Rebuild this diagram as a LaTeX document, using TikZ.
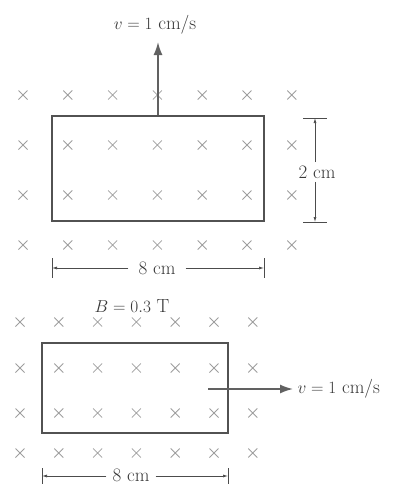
\documentclass[tikz,border=0pt]{standalone}
\usetikzlibrary{arrows.meta}
\begin{document}
\begin{tikzpicture}[x=1pt, y=-1pt,
    every node/.style={font=\fontsize{19}{22}\selectfont, text=black!78},
    field/.style={black!38, line width=0.8pt},
    wire/.style={draw=black!68, line width=1.4pt, inner sep=0pt},
    vel/.style={black!62, line width=1.6pt, -{Latex[length=13pt,width=9pt]}},
    dim/.style={black!70, line width=0.7pt, -{Latex[length=5pt,width=3pt]}},
    tick/.style={black!70, line width=0.8pt}]

    \useasboundingbox (0,0) rectangle (401,485);

    % --- 1. upper field and loop ---
    \foreach \y in {95,145,195,245}
      \foreach \i in {0,...,6}
        \draw[field] ({23+44.8*\i-4.5},\y-4.5) -- ++(9,9) ++(-9,0) -- ++(9,-9);

    \node[wire, minimum width=212pt, minimum height=105pt] (loopA) at (158,168.5) {};
    \coordinate (tipA) at (loopA.north |- 0,42);
    \draw[vel] (loopA.north) -- (tipA);
    \node (velA) at (155,25) {$v = 1$ cm/s};

    % --- 2. dimensions of the upper loop ---
    \coordinate (hTop) at (315,118);
    \coordinate (hBot) at (315,222);
    \draw[tick] (hTop) ++(-12,0) -- ++(24,0);
    \draw[tick] (hBot) ++(-12,0) -- ++(24,0);
    \node (dimH) at (317,172) {2 cm};
    \draw[dim] (dimH.north -| hTop) -- (hTop);
    \draw[dim] (dimH.south -| hBot) -- (hBot);

    \coordinate (wLeftA) at (52,268);
    \coordinate (wRightA) at (264,268);
    \draw[tick] (wLeftA) ++(0,-10) -- ++(0,20);
    \draw[tick] (wRightA) ++(0,-10) -- ++(0,20);
    \node[inner xsep=10pt] (dimA) at (157,268) {8 cm};
    \draw[dim] (dimA.west) -- (wLeftA);
    \draw[dim] (dimA.east) -- (wRightA);

    \node (field) at (132,306) {$B = 0.3$ T};

    % --- 3. lower field and loop ---
    \foreach \y in {322,368,413,453}
      \foreach \i in {0,...,6}
        \draw[field] ({20+38.8*\i-4.5},\y-4.5) -- ++(9,9) ++(-9,0) -- ++(9,-9);

    \node[wire, minimum width=186pt, minimum height=90pt] (loopB) at (135,388) {};
    \coordinate (tailB) at (208,389);
    \coordinate (tipB) at (293,389);
    \draw[vel] (tailB) -- (tipB);
    \node[right=1pt] (velB) at (tipB) {$v = 1$ cm/s};

    % --- 4. width of the lower loop ---
    \coordinate (wLeftB) at (42,476);
    \coordinate (wRightB) at (228,476);
    \draw[tick] (wLeftB) ++(0,-8) -- ++(0,16);
    \draw[tick] (wRightB) ++(0,-8) -- ++(0,16);
    \node[inner xsep=6pt, inner ysep=0pt] (dimB) at (131,475) {8 cm};
    \draw[dim] (dimB.west |- wLeftB) -- (wLeftB);
    \draw[dim] (dimB.east |- wRightB) -- (wRightB);

  \end{tikzpicture}
\end{document}
